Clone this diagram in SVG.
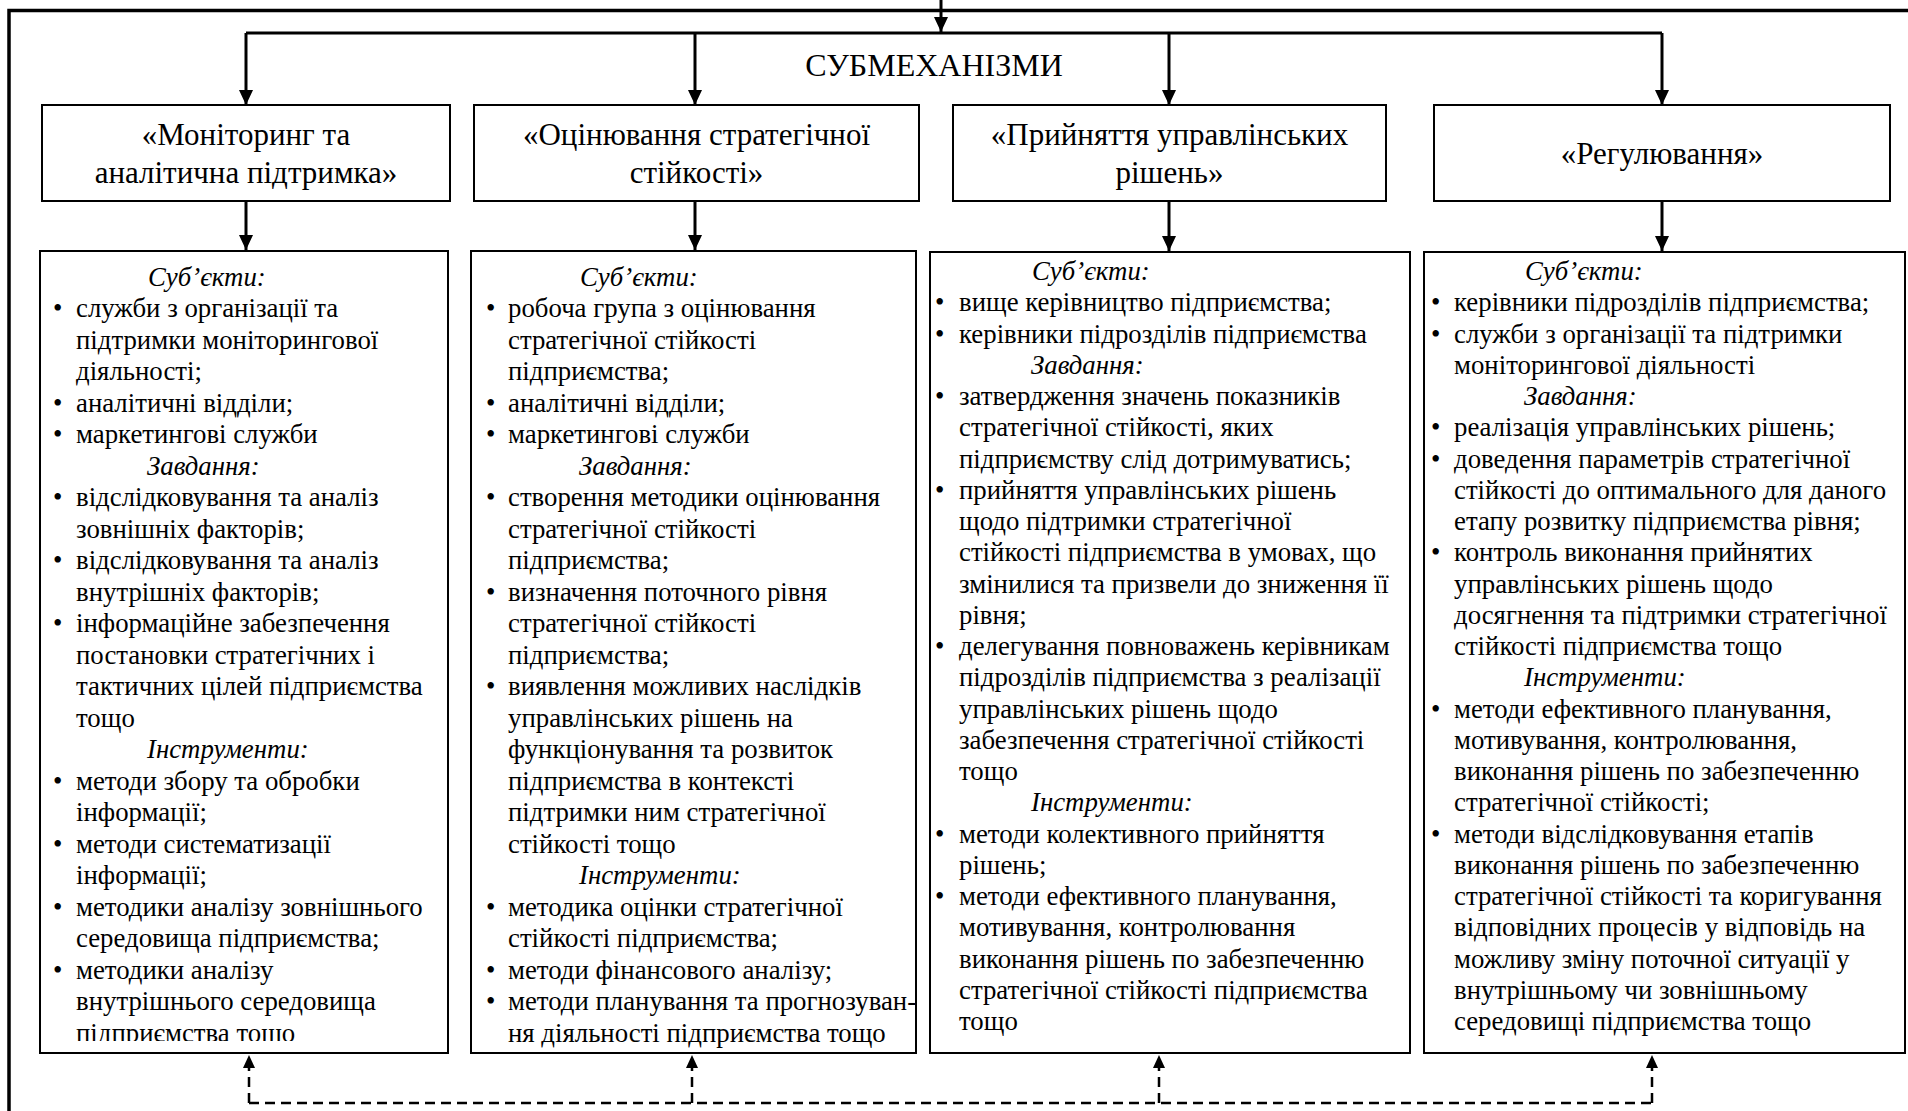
<svg xmlns="http://www.w3.org/2000/svg" width="1908" height="1111" viewBox="0 0 1908 1111">
<defs>
<style>
.box{fill:#fff;stroke:#000;stroke-width:2}
.hd{font-family:"Liberation Serif","Times New Roman",serif;font-size:31px;text-anchor:middle;fill:#000}
.ttl{font-family:"Liberation Serif","Times New Roman",serif;font-size:32px;text-anchor:middle;fill:#000}
.tx{font-family:"Liberation Serif","Times New Roman",serif;font-size:26.8px;fill:#000}
.it{font-style:italic}
.conn{stroke:#000;stroke-width:3;fill:none}
.dash{stroke:#000;stroke-width:2.5;fill:none;stroke-dasharray:10 6}
.frame{stroke:#000;stroke-width:3.5;fill:none}
</style>
<marker id="ah" markerWidth="15" markerHeight="14" refX="15" refY="7" orient="auto" markerUnits="userSpaceOnUse"><path d="M0,0 L15,7 L0,14 z" fill="#000" stroke="none"/></marker>
<marker id="ahs" markerWidth="13" markerHeight="12" refX="13" refY="6" orient="auto" markerUnits="userSpaceOnUse"><path d="M0,0 L13,6 L0,12 z" fill="#000" stroke="none"/></marker>
<clipPath id="clip1"><rect x="40" y="251" width="408" height="790"/></clipPath>
</defs>
<rect width="1908" height="1111" fill="#fff"/>
<g id="frame"><path class="frame" d="M9,1111 V10.5 H1908"/></g>

<g id="connectors">
<path class="conn" d="M941,0 V32" marker-end="url(#ah)"/>
<path class="conn" d="M246,33 H1662"/>
<path class="conn" d="M246,33 V105" marker-end="url(#ah)"/>
<path class="conn" d="M695,33 V105" marker-end="url(#ah)"/>
<path class="conn" d="M1169,33 V105" marker-end="url(#ah)"/>
<path class="conn" d="M1662,33 V105" marker-end="url(#ah)"/>
<path class="conn" d="M246,201 V250" marker-end="url(#ah)"/>
<path class="conn" d="M695,201 V250" marker-end="url(#ah)"/>
<path class="conn" d="M1169,201 V251" marker-end="url(#ah)"/>
<path class="conn" d="M1662,201 V251" marker-end="url(#ah)"/>
<path class="dash" d="M249,1103 H1652"/>
<path class="dash" d="M249,1103 V1055" marker-end="url(#ahs)"/>
<path class="dash" d="M692,1103 V1055" marker-end="url(#ahs)"/>
<path class="dash" d="M1159,1103 V1055" marker-end="url(#ahs)"/>
<path class="dash" d="M1652,1103 V1055" marker-end="url(#ahs)"/>
</g>

<g id="title"><text class="ttl" x="934" y="76">СУБМЕХАНІЗМИ</text></g>

<g id="h1"><rect class="box" x="42" y="105" width="408" height="96"/>
<text class="hd" x="246" y="145">«Моніторинг та</text>
<text class="hd" x="246" y="183">аналітична підтримка»</text></g>
<g id="h2"><rect class="box" x="474" y="105" width="445" height="96"/>
<text class="hd" x="696.5" y="145">«Оцінювання стратегічної</text>
<text class="hd" x="696.5" y="183">стійкості»</text></g>
<g id="h3"><rect class="box" x="953" y="105" width="433" height="96"/>
<text class="hd" x="1169.5" y="145">«Прийняття управлінських</text>
<text class="hd" x="1169.5" y="183">рішень»</text></g>
<g id="h4"><rect class="box" x="1434" y="105" width="456" height="96"/>
<text class="hd" x="1662" y="164">«Регулювання»</text></g>

<g id="d1"><rect class="box" x="40" y="251" width="408" height="802"/>
<g class="tx" clip-path="url(#clip1)">
<text class="it" x="148" y="285.5">Суб’єкти:</text>
<text x="53" y="317">•</text><text x="76" y="317">служби з організації та</text>
<text x="76" y="348.5">підтримки моніторингової</text>
<text x="76" y="380">діяльності;</text>
<text x="53" y="411.5">•</text><text x="76" y="411.5">аналітичні відділи;</text>
<text x="53" y="443">•</text><text x="76" y="443">маркетингові служби</text>
<text class="it" x="147" y="474.5">Завдання:</text>
<text x="53" y="506">•</text><text x="76" y="506">відслідковування та аналіз</text>
<text x="76" y="537.5">зовнішніх факторів;</text>
<text x="53" y="569">•</text><text x="76" y="569">відслідковування та аналіз</text>
<text x="76" y="600.5">внутрішніх факторів;</text>
<text x="53" y="632">•</text><text x="76" y="632">інформаційне забезпечення</text>
<text x="76" y="663.5">постановки стратегічних і</text>
<text x="76" y="695">тактичних цілей підприємства</text>
<text x="76" y="726.5">тощо</text>
<text class="it" x="147" y="758">Інструменти:</text>
<text x="53" y="789.5">•</text><text x="76" y="789.5">методи збору та обробки</text>
<text x="76" y="821">інформації;</text>
<text x="53" y="852.5">•</text><text x="76" y="852.5">методи систематизації</text>
<text x="76" y="884">інформації;</text>
<text x="53" y="915.5">•</text><text x="76" y="915.5">методики аналізу зовнішнього</text>
<text x="76" y="947">середовища підприємства;</text>
<text x="53" y="978.5">•</text><text x="76" y="978.5">методики аналізу</text>
<text x="76" y="1010">внутрішнього середовища</text>
<text x="76" y="1041.5">підприємства тощо</text>
</g></g>

<g id="d2"><rect class="box" x="471" y="251" width="445" height="802"/>
<g class="tx">
<text class="it" x="580" y="285.5">Суб’єкти:</text>
<text x="486" y="317">•</text><text x="508" y="317">робоча група з оцінювання</text>
<text x="508" y="348.5">стратегічної стійкості</text>
<text x="508" y="380">підприємства;</text>
<text x="486" y="411.5">•</text><text x="508" y="411.5">аналітичні відділи;</text>
<text x="486" y="443">•</text><text x="508" y="443">маркетингові служби</text>
<text class="it" x="579" y="474.5">Завдання:</text>
<text x="486" y="506">•</text><text x="508" y="506">створення методики оцінювання</text>
<text x="508" y="537.5">стратегічної стійкості</text>
<text x="508" y="569">підприємства;</text>
<text x="486" y="600.5">•</text><text x="508" y="600.5">визначення поточного рівня</text>
<text x="508" y="632">стратегічної стійкості</text>
<text x="508" y="663.5">підприємства;</text>
<text x="486" y="695">•</text><text x="508" y="695">виявлення можливих наслідків</text>
<text x="508" y="726.5">управлінських рішень на</text>
<text x="508" y="758">функціонування та розвиток</text>
<text x="508" y="789.5">підприємства в контексті</text>
<text x="508" y="821">підтримки ним стратегічної</text>
<text x="508" y="852.5">стійкості тощо</text>
<text class="it" x="579" y="884">Інструменти:</text>
<text x="486" y="915.5">•</text><text x="508" y="915.5">методика оцінки стратегічної</text>
<text x="508" y="947">стійкості підприємства;</text>
<text x="486" y="978.5">•</text><text x="508" y="978.5">методи фінансового аналізу;</text>
<text x="486" y="1010">•</text><text x="508" y="1010">методи планування та прогнозуван-</text>
<text x="508" y="1041.5">ня діяльності підприємства тощо</text>
</g></g>

<g id="d3"><rect class="box" x="930" y="252" width="480" height="801"/>
<g class="tx">
<text class="it" x="1032" y="280">Суб’єкти:</text>
<text x="935" y="311.3">•</text><text x="959" y="311.3">вище керівництво підприємства;</text>
<text x="935" y="342.5">•</text><text x="959" y="342.5">керівники підрозділів підприємства</text>
<text class="it" x="1031" y="373.8">Завдання:</text>
<text x="935" y="405">•</text><text x="959" y="405">затвердження значень показників</text>
<text x="959" y="436.3">стратегічної стійкості, яких</text>
<text x="959" y="467.5">підприємству слід дотримуватись;</text>
<text x="935" y="498.8">•</text><text x="959" y="498.8">прийняття управлінських рішень</text>
<text x="959" y="530">щодо підтримки стратегічної</text>
<text x="959" y="561.3">стійкості підприємства в умовах, що</text>
<text x="959" y="592.5">змінилися та призвели до зниження її</text>
<text x="959" y="623.8">рівня;</text>
<text x="935" y="655">•</text><text x="959" y="655">делегування повноважень керівникам</text>
<text x="959" y="686.3">підрозділів підприємства з реалізації</text>
<text x="959" y="717.5">управлінських рішень щодо</text>
<text x="959" y="748.8">забезпечення стратегічної стійкості</text>
<text x="959" y="780">тощо</text>
<text class="it" x="1031" y="811.3">Інструменти:</text>
<text x="935" y="842.5">•</text><text x="959" y="842.5">методи колективного прийняття</text>
<text x="959" y="873.8">рішень;</text>
<text x="935" y="905">•</text><text x="959" y="905">методи ефективного планування,</text>
<text x="959" y="936.3">мотивування, контролювання</text>
<text x="959" y="967.5">виконання рішень по забезпеченню</text>
<text x="959" y="998.8">стратегічної стійкості підприємства</text>
<text x="959" y="1030">тощо</text>
</g></g>

<g id="d4"><rect class="box" x="1424" y="252" width="481" height="801"/>
<g class="tx">
<text class="it" x="1525" y="280">Суб’єкти:</text>
<text x="1431" y="311.3">•</text><text x="1454" y="311.3">керівники підрозділів підприємства;</text>
<text x="1431" y="342.5">•</text><text x="1454" y="342.5">служби з організації та підтримки</text>
<text x="1454" y="373.8">моніторингової діяльності</text>
<text class="it" x="1524" y="405">Завдання:</text>
<text x="1431" y="436.3">•</text><text x="1454" y="436.3">реалізація управлінських рішень;</text>
<text x="1431" y="467.5">•</text><text x="1454" y="467.5">доведення параметрів стратегічної</text>
<text x="1454" y="498.8">стійкості до оптимального для даного</text>
<text x="1454" y="530">етапу розвитку підприємства рівня;</text>
<text x="1431" y="561.3">•</text><text x="1454" y="561.3">контроль виконання прийнятих</text>
<text x="1454" y="592.5">управлінських рішень щодо</text>
<text x="1454" y="623.8">досягнення та підтримки стратегічної</text>
<text x="1454" y="655">стійкості підприємства тощо</text>
<text class="it" x="1524" y="686.3">Інструменти:</text>
<text x="1431" y="717.5">•</text><text x="1454" y="717.5">методи ефективного планування,</text>
<text x="1454" y="748.8">мотивування, контролювання,</text>
<text x="1454" y="780">виконання рішень по забезпеченню</text>
<text x="1454" y="811.3">стратегічної стійкості;</text>
<text x="1431" y="842.5">•</text><text x="1454" y="842.5">методи відслідковування етапів</text>
<text x="1454" y="873.8">виконання рішень по забезпеченню</text>
<text x="1454" y="905">стратегічної стійкості та коригування</text>
<text x="1454" y="936.3">відповідних процесів у відповідь на</text>
<text x="1454" y="967.5">можливу зміну поточної ситуації у</text>
<text x="1454" y="998.8">внутрішньому чи зовнішньому</text>
<text x="1454" y="1030">середовищі підприємства тощо</text>
</g></g>
</svg>
